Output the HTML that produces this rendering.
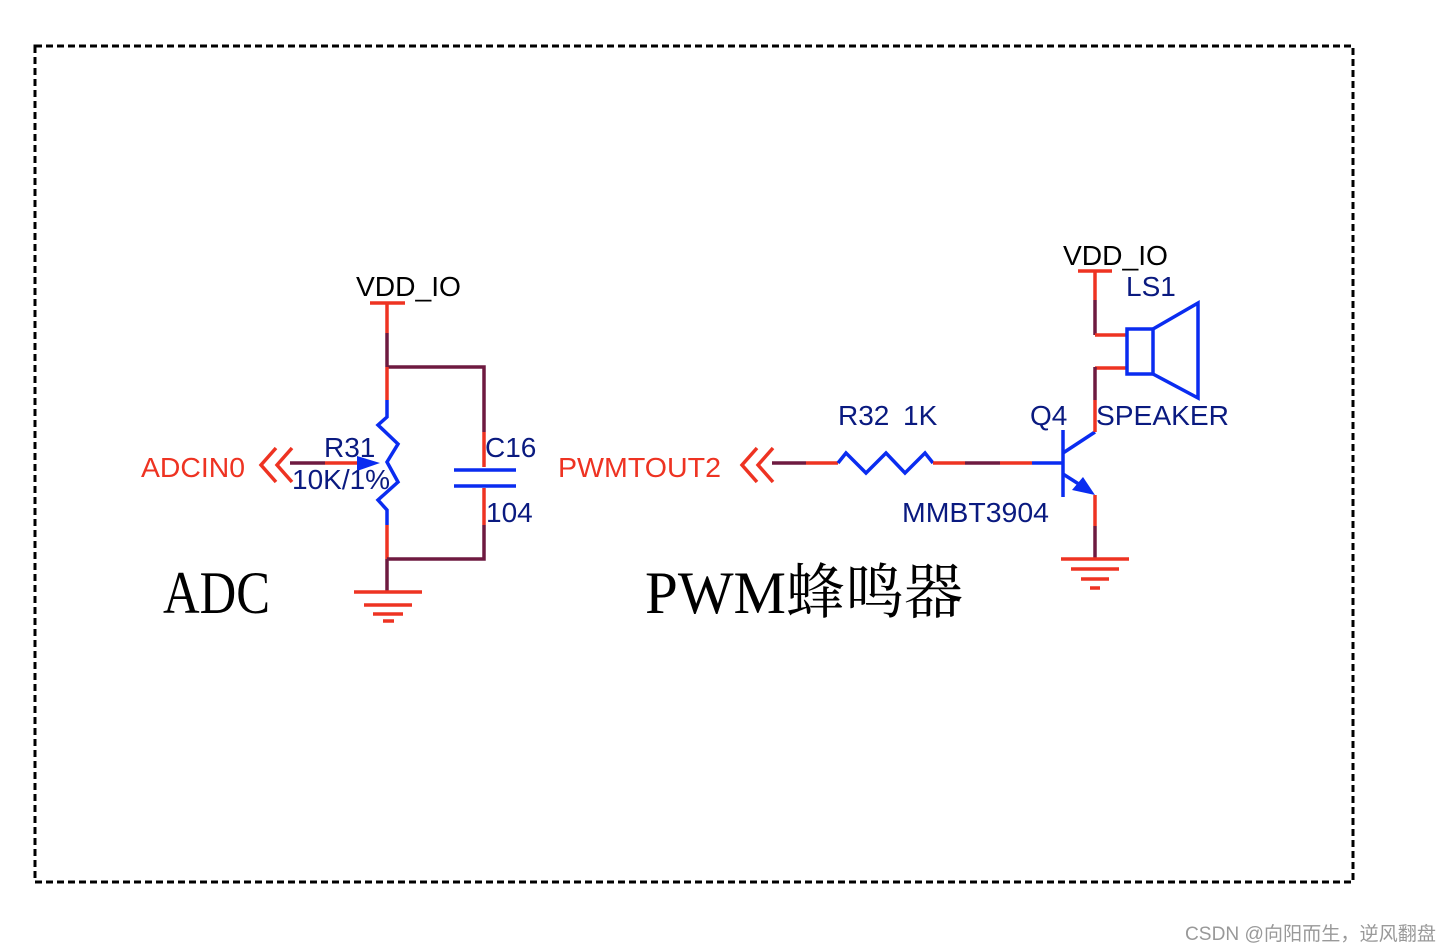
<!DOCTYPE html>
<html><head><meta charset="utf-8"><style>
html,body{margin:0;padding:0;background:#fff;}
svg{display:block;}
text{font-family:"Liberation Sans","Noto Sans CJK SC",sans-serif;}
</style></head><body>
<svg width="1452" height="952" viewBox="0 0 1452 952" xmlns="http://www.w3.org/2000/svg">
<rect x="35" y="46" width="1318" height="836" fill="none" stroke="#000" stroke-width="3" stroke-dasharray="7,4"/>
<g stroke-width="3.5" fill="none" stroke-linecap="butt">
<line x1="370" y1="303" x2="405" y2="303" stroke="#ee3322"/>
<line x1="387" y1="303" x2="387" y2="333" stroke="#ee3322"/>
<line x1="387" y1="333" x2="387" y2="367" stroke="#6e1a40"/>
<polyline points="387,367 484,367 484,432" stroke="#6e1a40"/>
<line x1="387" y1="367" x2="387" y2="400" stroke="#ee3322"/>
<polyline points="387,400 387,417 378,425 398,444 387,462 398,482 378,500 387,510 387,525" stroke="#0a2cf0"/>
<line x1="387" y1="525" x2="387" y2="559" stroke="#ee3322"/>
<polyline points="387,559 484,559 484,525" stroke="#6e1a40"/>
<line x1="387" y1="559" x2="387" y2="591" stroke="#6e1a40"/>
<line x1="484" y1="432" x2="484" y2="467" stroke="#ee3322"/>
<line x1="484" y1="488" x2="484" y2="525" stroke="#ee3322"/>
<line x1="454" y1="470" x2="516" y2="470" stroke="#0a2cf0"/>
<line x1="454" y1="486" x2="516" y2="486" stroke="#0a2cf0"/>
<line x1="354" y1="592" x2="422" y2="592" stroke="#ee3322"/>
<line x1="364" y1="605" x2="412" y2="605" stroke="#ee3322"/>
<line x1="373" y1="614" x2="403" y2="614" stroke="#ee3322"/>
<line x1="383" y1="621" x2="394" y2="621" stroke="#ee3322"/>
<line x1="290" y1="463" x2="325" y2="463" stroke="#6e1a40"/>
<line x1="325" y1="463" x2="358" y2="463" stroke="#ee3322"/>
<polyline points="276,448 261,465 276,482" stroke="#ee3322"/>
<polyline points="292,448 277,465 292,482" stroke="#ee3322"/>
<polyline points="757,448 742,465 757,482" stroke="#ee3322"/>
<polyline points="773,448 758,465 773,482" stroke="#ee3322"/>
<line x1="772" y1="463" x2="806" y2="463" stroke="#6e1a40"/>
<line x1="806" y1="463" x2="838" y2="463" stroke="#ee3322"/>
<polyline points="838,463 846,453 866,473 886,453 905,473 925,453 933,463" stroke="#0a2cf0"/>
<line x1="933" y1="463" x2="965" y2="463" stroke="#ee3322"/>
<line x1="965" y1="463" x2="1000" y2="463" stroke="#6e1a40"/>
<line x1="1000" y1="463" x2="1032" y2="463" stroke="#ee3322"/>
<line x1="1032" y1="463" x2="1063" y2="463" stroke="#0a2cf0"/>
<line x1="1063" y1="430" x2="1063" y2="497" stroke="#0a2cf0"/>
<line x1="1063" y1="453" x2="1095" y2="432" stroke="#0a2cf0"/>
<line x1="1063" y1="474" x2="1085" y2="488" stroke="#0a2cf0"/>
<line x1="1078" y1="271" x2="1112" y2="271" stroke="#ee3322"/>
<line x1="1095" y1="271" x2="1095" y2="300" stroke="#ee3322"/>
<line x1="1095" y1="300" x2="1095" y2="335" stroke="#6e1a40"/>
<line x1="1095" y1="335" x2="1128" y2="335" stroke="#ee3322"/>
<line x1="1095" y1="368" x2="1128" y2="368" stroke="#ee3322"/>
<line x1="1095" y1="367" x2="1095" y2="400" stroke="#6e1a40"/>
<line x1="1095" y1="400" x2="1095" y2="432" stroke="#ee3322"/>
<rect x="1127" y="329" width="26" height="45" stroke="#0a2cf0"/>
<polyline points="1153,329 1198,303 1198,398 1153,374" stroke="#0a2cf0"/>
<line x1="1095" y1="495" x2="1095" y2="526" stroke="#ee3322"/>
<line x1="1095" y1="526" x2="1095" y2="559" stroke="#6e1a40"/>
<line x1="1061" y1="559" x2="1129" y2="559" stroke="#ee3322"/>
<line x1="1071" y1="569" x2="1119" y2="569" stroke="#ee3322"/>
<line x1="1081" y1="579" x2="1109" y2="579" stroke="#ee3322"/>
<line x1="1090" y1="588" x2="1100" y2="588" stroke="#ee3322"/>
</g>
<polygon points="357,456 380,463 357,471" fill="#0a2cf0"/>
<polygon points="1095,495 1072,490 1083,477" fill="#0a2cf0"/>
<g font-size="28">
<text x="356" y="296" fill="#000" textLength="105" lengthAdjust="spacingAndGlyphs">VDD_IO</text>
<text x="1063" y="265" fill="#000" textLength="105" lengthAdjust="spacingAndGlyphs">VDD_IO</text>
<text x="324" y="457" fill="#0a1a80">R31</text>
<text x="292" y="489" fill="#0a1a80">10K/1%</text>
<text x="485" y="457" fill="#0a1a80">C16</text>
<text x="486" y="522" fill="#0a1a80">104</text>
<text x="141" y="477" fill="#ee3322" textLength="104" lengthAdjust="spacingAndGlyphs">ADCIN0</text>
<text x="558" y="477" fill="#ee3322" textLength="163" lengthAdjust="spacingAndGlyphs">PWMTOUT2</text>
<text x="838" y="425" fill="#0a1a80">R32</text>
<text x="903" y="425" fill="#0a1a80">1K</text>
<text x="1030" y="425" fill="#0a1a80">Q4</text>
<text x="1096" y="425" fill="#0a1a80" textLength="133" lengthAdjust="spacingAndGlyphs">SPEAKER</text>
<text x="1126" y="296" fill="#0a1a80">LS1</text>
<text x="902" y="522" fill="#0a1a80" textLength="147" lengthAdjust="spacingAndGlyphs">MMBT3904</text>
</g>
<text x="163" y="613" font-size="60" textLength="107" lengthAdjust="spacingAndGlyphs" style="font-family:'Liberation Serif',serif">ADC</text>
<text x="645" y="613" font-size="60" textLength="318" lengthAdjust="spacingAndGlyphs" style="font-family:'Liberation Serif','Noto Serif CJK SC',serif">PWM蜂鸣器</text>
<text x="1185" y="940" font-size="19" fill="#999" textLength="251" lengthAdjust="spacingAndGlyphs">CSDN @向阳而生，逆风翻盘</text>
</svg>
</body></html>
